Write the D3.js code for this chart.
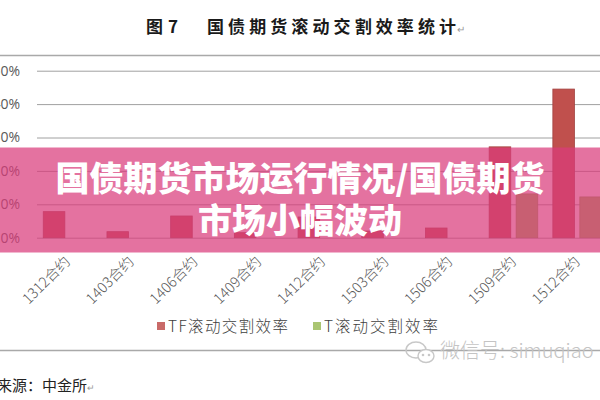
<!DOCTYPE html>
<html>
<head>
<meta charset="utf-8">
<script src="https://cdn.jsdelivr.net/npm/d3@7"></script>
<style>
html,body{margin:0;padding:0;background:#fff;overflow:hidden;}
svg{display:block;}
</style>
</head>
<body>
<svg id="chart" width="600" height="400"></svg>
<script>
// ---- data ----
const categories = ["1312合约","1403合约","1406合约","1409合约","1412合约","1503合约","1506合约","1509合约","1512合约"];
const seriesNames = ["TF滚动交割效率","T滚动交割效率"];
const tfValues = [0.078, 0.018, 0.065, 0.015, 0.062, 0.020, 0.029, 0.272, 0.445];
const tValues  = [null, null, null, null, null, null, null, 0.131, 0.122];
const yTicks = [0, 0.1, 0.2, 0.3, 0.4, 0.5];
const titleFig = ["图", "7"];
const titleText = "国债期货滚动交割效率统计";
const sourceText = "来源：中金所";
const bannerLines = ["国债期货市场运行情况/国债期货", "市场小幅波动"];
const watermarkText = "微信号: simuqiao";

const colors = ["#c0504d", "#9bbb59"];
const CJK = "'Noto Sans CJK SC','Noto Sans',sans-serif";

const svg = d3.select("#chart");
svg.append("rect").attr("width",600).attr("height",400).attr("fill","#fff");

// frame lines
svg.append("line").attr("x1",0).attr("x2",600).attr("y1",55.5).attr("y2",55.5)
  .attr("stroke","#a9a9a9").attr("stroke-width",1.5);
svg.append("line").attr("x1",0).attr("x2",600).attr("y1",350.5).attr("y2",350.5)
  .attr("stroke","#a9a9a9").attr("stroke-width",1.5);

// title
svg.append("text").attr("x",146).attr("y",33).attr("font-family",CJK).attr("font-weight",700)
  .attr("font-size",17).attr("fill","#1a1a1a").text(titleFig[0]);
svg.append("text").attr("x",168).attr("y",33).attr("font-family",CJK).attr("font-weight",700)
  .attr("font-size",17).attr("fill","#1a1a1a").text(titleFig[1]);
svg.append("text").attr("x",207).attr("y",33).attr("font-family",CJK).attr("font-weight",700)
  .attr("font-size",17).attr("fill","#1a1a1a").attr("textLength",249).attr("lengthAdjust","spacing")
  .text(titleText);
svg.append("text").attr("x",457).attr("y",33).attr("font-family",CJK)
  .attr("font-size",10).attr("fill","#999").text("↵");

// scales
const step = 63.7;
const x0 = d3.scaleBand().domain(categories).range([35.7, 35.7 + step*categories.length]).padding(0);
const x1 = d3.scaleBand().domain(seriesNames).range([0, x0.bandwidth()]).paddingInner(0.2).paddingOuter(0.28);
const y = d3.scaleLinear().domain([0, 0.5]).range([237.7, 70.7]);

// gridlines
const gy = svg.append("g").attr("transform","translate(37,0)")
  .call(d3.axisLeft(y).tickValues(yTicks).tickSize(-600).tickFormat(""));
gy.select(".domain").remove();
gy.selectAll(".tick line").attr("stroke","#a0a0a0").attr("stroke-width",1);

// y labels
const gl = svg.append("g").attr("transform","translate(20,0)")
  .call(d3.axisLeft(y).tickValues(yTicks).tickSize(0).tickPadding(0).tickFormat(d3.format(".0%")));
gl.select(".domain").remove();
gl.selectAll("text").attr("font-family","'Open Sans','Noto Sans',sans-serif").attr("font-size",14).attr("fill","#595959");

// bars
const series = [tfValues, tValues];
series.forEach((vals, si) => {
  svg.append("g").selectAll("rect")
    .data(categories.map((c,i)=>({c, v: vals[i]})).filter(d => d.v != null))
    .join("rect")
    .attr("x", d => x0(d.c) + x1(seriesNames[si]))
    .attr("width", x1.bandwidth())
    .attr("y", d => y(d.v))
    .attr("height", d => y(0) - y(d.v))
    .attr("fill", colors[si])
    .attr("stroke", d3.color(colors[si]).darker(0.5))
    .attr("stroke-width", 0.8);
});

// x labels
const gx = svg.append("g").attr("transform","translate(0,266)")
  .call(d3.axisBottom(x0).tickSize(0).tickPadding(0));
gx.select(".domain").remove();
gx.selectAll(".tick text")
  .attr("font-family","'Noto Sans CJK SC','Noto Sans',sans-serif")
  .attr("font-size",14.5).attr("font-weight",300).attr("fill","#595959")
  .attr("text-anchor","end").attr("dy",0).attr("y",0).attr("x",5)
  .attr("transform","rotate(-45)");

// legend
const legX = [157, 313];
const legLen = [120, 114];
seriesNames.forEach((n, i) => {
  svg.append("rect").attr("x",legX[i]).attr("y",322).attr("width",8).attr("height",8)
    .attr("fill",colors[i]).attr("opacity",0.85);
  svg.append("text").attr("x",legX[i]+11).attr("y",332).attr("font-family",CJK)
    .attr("font-size",15.5).attr("font-weight",300).attr("fill","#404040")
    .attr("textLength",legLen[i]).attr("lengthAdjust","spacing").text(n);
});

// source
svg.append("text").attr("x",-3).attr("y",391).attr("font-family",CJK).attr("font-size",15)
  .attr("fill","#222").text(sourceText);
svg.append("text").attr("x",87).attr("y",391).attr("font-family",CJK).attr("font-size",9)
  .attr("fill","#999").text("↵");

// watermark
const wm = svg.append("g").attr("fill","none").attr("stroke","#c8c8c8").attr("stroke-width",1.4);
wm.append("ellipse").attr("cx",416).attr("cy",350).attr("rx",10).attr("ry",8);
wm.append("ellipse").attr("cx",426).attr("cy",356).attr("rx",8).attr("ry",6.5).attr("fill","#fff");
svg.append("circle").attr("cx",423).attr("cy",355).attr("r",1.3).attr("fill","#c8c8c8");
svg.append("circle").attr("cx",429).attr("cy",355).attr("r",1.3).attr("fill","#c8c8c8");
svg.append("text").attr("x",440).attr("y",358).attr("font-family",CJK).attr("font-weight",300)
  .attr("font-size",20).attr("fill","#c4c4c4").text(watermarkText);

// banner overlay
svg.append("rect").attr("x",0).attr("y",147.5).attr("width",600).attr("height",105)
  .attr("fill","rgb(218,60,123)").attr("opacity",0.72);
svg.append("g").selectAll("text").data(bannerLines).join("text")
  .attr("x",300).attr("y",(d,i)=> 191 + i*42)
  .attr("text-anchor","middle")
  .attr("font-family",CJK).attr("font-weight",900).attr("font-size",34)
  .attr("fill","#fff").text(d=>d);
</script>
</body>
</html>
